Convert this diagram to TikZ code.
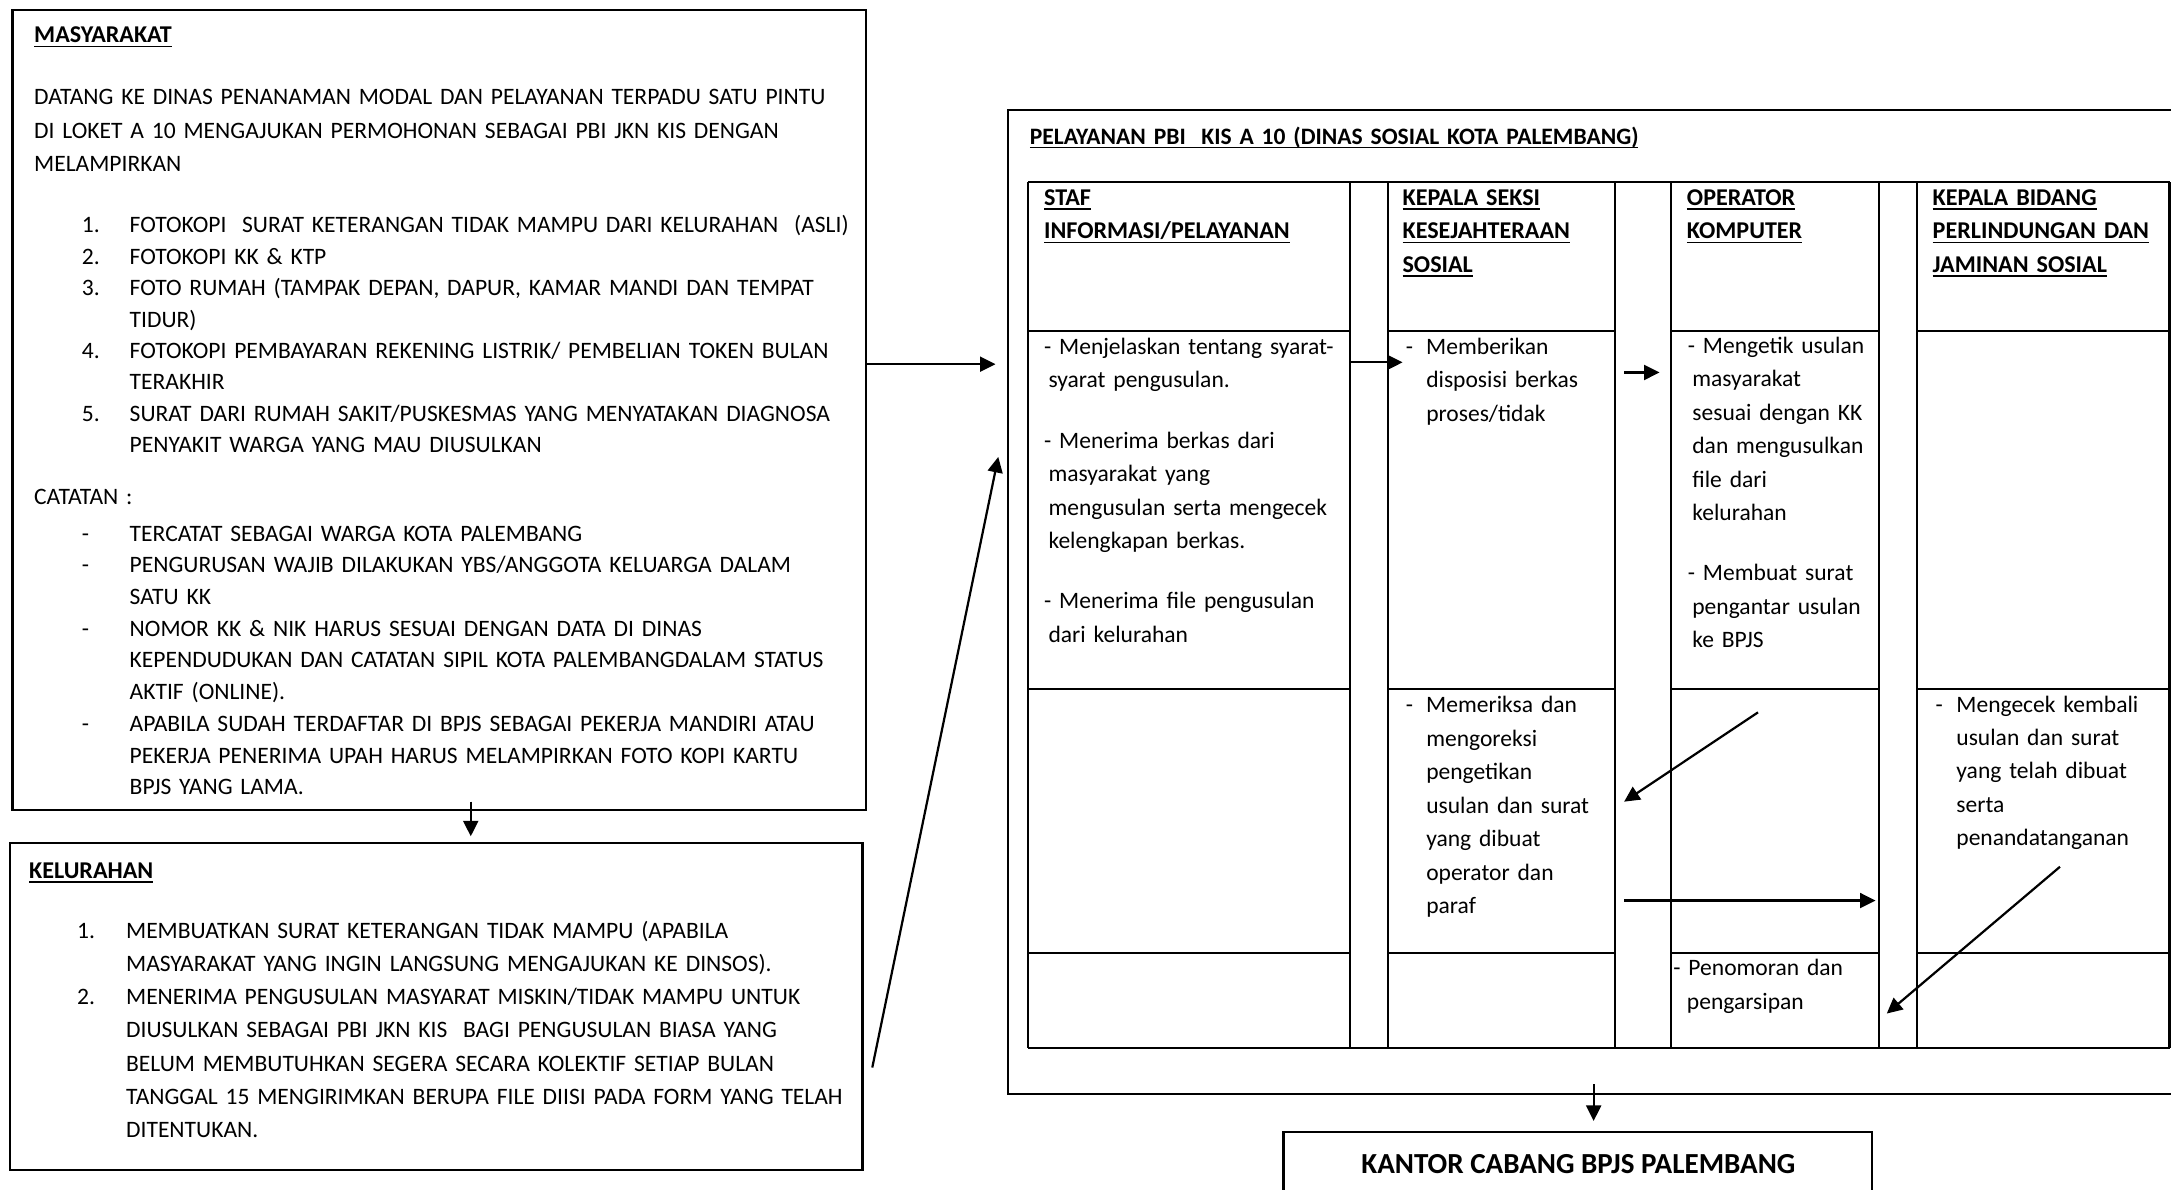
\documentclass[tikz,border=0pt]{standalone}
\usepackage{fontspec}
\setmainfont{Carlito}
\usetikzlibrary{arrows.meta}
\newsavebox\ulbox
\newcommand\myul[1]{\leavevmode\sbox\ulbox{#1}\rlap{\rule[-1.5pt]{\wd\ulbox}{0.55pt}}\usebox\ulbox}
\newcommand\lbl[2]{\makebox[#1][l]{#2}}
\tikzset{
  boxline/.style={line width=0.85pt},
  tline/.style={line width=0.8pt},
  conn/.style={line width=0.8pt,-{Triangle[length=5.6pt,width=5.4pt]}},
  body/.style={anchor=base west,inner sep=0pt,text width=330pt,align=left,
    font={\fontsize{8.5pt}{#1}\selectfont}},
  body/.default=12.1pt,
  head/.style={anchor=base west,inner sep=0pt,text width=330pt,align=left,
    font={\bfseries\fontsize{8.7pt}{#1}\selectfont}},
  head/.default=12.1pt
}
\begin{document}
\begin{tikzpicture}[x=0.5pt,y=-0.5pt]
\useasboundingbox (0,0) rectangle (1568,859);
\clip (0,0) rectangle (1568,859);

% ---------- MASYARAKAT ----------
\draw[boxline] (9,7.2) rectangle (625.5,585);
\node[head] (mtitle) at (24.3,31) {\myul{MASYARAKAT}};
\node[body=12.2pt] (mpara) at (24.3,75.4) {DATANG KE DINAS PENANAMAN MODAL DAN PELAYANAN TERPADU SATU PINTU\\DI LOKET A 10 MENGAJUKAN PERMOHONAN SEBAGAI PBI JKN KIS DENGAN\\MELAMPIRKAN};
\node[body=11.35pt] (mlist) at (58.8,168.1) {\lbl{17.25pt}{1.}FOTOKOPI\ \ SURAT KETERANGAN TIDAK MAMPU DARI KELURAHAN\ \ (ASLI)\\\lbl{17.25pt}{2.}FOTOKOPI KK \& KTP\\\lbl{17.25pt}{3.}FOTO RUMAH (TAMPAK DEPAN, DAPUR, KAMAR MANDI DAN TEMPAT\\\hspace*{17.25pt}TIDUR)\\\lbl{17.25pt}{4.}FOTOKOPI PEMBAYARAN REKENING LISTRIK/ PEMBELIAN TOKEN BULAN\\\hspace*{17.25pt}TERAKHIR\\\lbl{17.25pt}{5.}SURAT DARI RUMAH SAKIT/PUSKESMAS YANG MENYATAKAN DIAGNOSA\\\hspace*{17.25pt}PENYAKIT WARGA YANG MAU DIUSULKAN};
\node[body] (mcat) at (24.3,364.3) {CATATAN :};
\node[body=11.45pt] (mnotes) at (58.8,390.8) {\lbl{17.25pt}{-}TERCATAT SEBAGAI WARGA KOTA PALEMBANG\\\lbl{17.25pt}{-}PENGURUSAN WAJIB DILAKUKAN YBS/ANGGOTA KELUARGA DALAM\\\hspace*{17.25pt}SATU KK\\\lbl{17.25pt}{-}NOMOR KK \& NIK HARUS SESUAI DENGAN DATA DI DINAS\\\hspace*{17.25pt}KEPENDUDUKAN DAN CATATAN SIPIL KOTA PALEMBANGDALAM STATUS\\\hspace*{17.25pt}AKTIF (ONLINE).\\\lbl{17.25pt}{-}APABILA SUDAH TERDAFTAR DI BPJS SEBAGAI PEKERJA MANDIRI ATAU\\\hspace*{17.25pt}PEKERJA PENERIMA UPAH HARUS MELAMPIRKAN FOTO KOPI KARTU\\\hspace*{17.25pt}BPJS YANG LAMA.};

% ---------- KELURAHAN ----------
\draw[boxline] (7,608.7) rectangle (623,845);
\node[head] (ktitle) at (20.7,634.6) {\myul{KELURAHAN}};
\node[body=12pt] (klist) at (55.3,677.6) {\lbl{17.7pt}{1.}MEMBUATKAN SURAT KETERANGAN TIDAK MAMPU (APABILA\\\hspace*{17.7pt}MASYARAKAT YANG INGIN LANGSUNG MENGAJUKAN KE DINSOS).\\\lbl{17.7pt}{2.}MENERIMA PENGUSULAN MASYARAT MISKIN/TIDAK MAMPU UNTUK\\\hspace*{17.7pt}DIUSULKAN SEBAGAI PBI JKN KIS\ \ BAGI PENGUSULAN BIASA YANG\\\hspace*{17.7pt}BELUM MEMBUTUHKAN SEGERA SECARA KOLEKTIF SETIAP BULAN\\\hspace*{17.7pt}TANGGAL 15 MENGIRIMKAN BERUPA FILE DIISI PADA FORM YANG TELAH\\\hspace*{17.7pt}DITENTUKAN.};

% ---------- PELAYANAN (outer) ----------
\draw[boxline] (1590,79.5) -- (728,79.5) -- (728,790) -- (1590,790);
\node[head, font={\bfseries\fontsize{8.5pt}{12pt}\selectfont}] (ptitle) at (743.4,104) {\myul{PELAYANAN PBI\ \ KIS A 10 (DINAS SOSIAL KOTA PALEMBANG)}};

% table grid
\foreach \xx in {742.5,975,1002.6,1166.6,1207,1357.3,1384.7,1566.9}
  \draw[tline] (\xx,131.7) -- (\xx,757);
\draw[tline] (742.5,131.7) -- (1566.9,131.7);
\draw[tline] (742.5,757) -- (1566.9,757);
\foreach \yy in {239,497.6,688}{
  \draw[tline] (742.5,\yy) -- (975,\yy);
  \draw[tline] (1002.6,\yy) -- (1166.6,\yy);
  \draw[tline] (1207,\yy) -- (1357.3,\yy);
  \draw[tline] (1384.7,\yy) -- (1566.9,\yy);
}

% headers
\node[head] (h1) at (753.7,148.4) {\myul{STAF}\\\myul{INFORMASI/PELAYANAN}};
\node[head] (h2) at (1012.6,148.4) {\myul{KEPALA SEKSI}\\\myul{KESEJAHTERAAN}\\\myul{SOSIAL}};
\node[head] (h3) at (1218,148.4) {\myul{OPERATOR}\\\myul{KOMPUTER}};
\node[head] (h4) at (1395.5,148.4) {\myul{KEPALA BIDANG}\\\myul{PERLINDUNGAN DAN}\\\myul{JAMINAN SOSIAL}};

% cells
\node[body] (c1) at (753.7,256) {- Menjelaskan tentang syarat-\\\hspace*{1.6pt}syarat pengusulan.\\[9.6pt]- Menerima berkas dari\\\hspace*{1.6pt}masyarakat yang\\\hspace*{1.6pt}mengusulan serta mengecek\\\hspace*{1.6pt}kelengkapan berkas.\\[9.6pt]- Menerima file pengusulan\\\hspace*{1.6pt}dari kelurahan};
\node[body] (c2) at (1014.9,256) {\lbl{7.4pt}{-}Memberikan\\\hspace*{7.4pt}disposisi berkas\\\hspace*{7.4pt}proses/tidak};
\node[body] (c3) at (1218.7,255.2) {- Mengetik usulan\\\hspace*{1.6pt}masyarakat\\\hspace*{1.6pt}sesuai dengan KK\\\hspace*{1.6pt}dan mengusulkan\\\hspace*{1.6pt}file dari\\\hspace*{1.6pt}kelurahan\\[9.6pt]- Membuat surat\\\hspace*{1.6pt}pengantar usulan\\\hspace*{1.6pt}ke BPJS};
\node[body] (c2b) at (1015,514.6) {\lbl{7.35pt}{-}Memeriksa dan\\\hspace*{7.35pt}mengoreksi\\\hspace*{7.35pt}pengetikan\\\hspace*{7.35pt}usulan dan surat\\\hspace*{7.35pt}yang dibuat\\\hspace*{7.35pt}operator dan\\\hspace*{7.35pt}paraf};
\node[body=12pt] (c4) at (1397.5,514.6) {\lbl{7.55pt}{-}Mengecek kembali\\\hspace*{7.55pt}usulan dan surat\\\hspace*{7.55pt}yang telah dibuat\\\hspace*{7.55pt}serta\\\hspace*{7.55pt}penandatanganan};
\node[body=12.2pt] (c3b) at (1208.2,704.5) {- Penomoran dan\\\hspace*{4.9pt}pengarsipan};

% ---------- KANTOR ----------
\draw[boxline] (927,880) -- (927,817.6) -- (1352,817.6) -- (1352,880);
\node[anchor=base,inner sep=0pt,font={\bfseries\fontsize{10.5pt}{12pt}\selectfont}] (kantor) at (1140,847.5) {KANTOR CABANG BPJS PALEMBANG};

% ---------- connectors ----------
\coordinate (a1s) at (625.5,263); \coordinate (a1e) at (719,263);
\coordinate (a2s) at (630,771);   \coordinate (a2e) at (721,330);
\coordinate (a3s) at (340,579);   \coordinate (a3e) at (340,604);
\coordinate (a4s) at (975,261.7); \coordinate (a4e) at (1013,261.7);
\coordinate (a5s) at (1173,269);  \coordinate (a5e) at (1198.6,269);
\coordinate (a6s) at (1269.7,514.5); \coordinate (a6e) at (1173,579);
\coordinate (a7s) at (1173,650.4); \coordinate (a7e) at (1354.6,650.4);
\coordinate (a8s) at (1487.8,626); \coordinate (a8e) at (1362.7,732);
\coordinate (a9s) at (1151,783);  \coordinate (a9e) at (1151,809.6);
\foreach \n in {1,...,9} \draw[conn] (a\n s) -- (a\n e);
\end{tikzpicture}
\end{document}
